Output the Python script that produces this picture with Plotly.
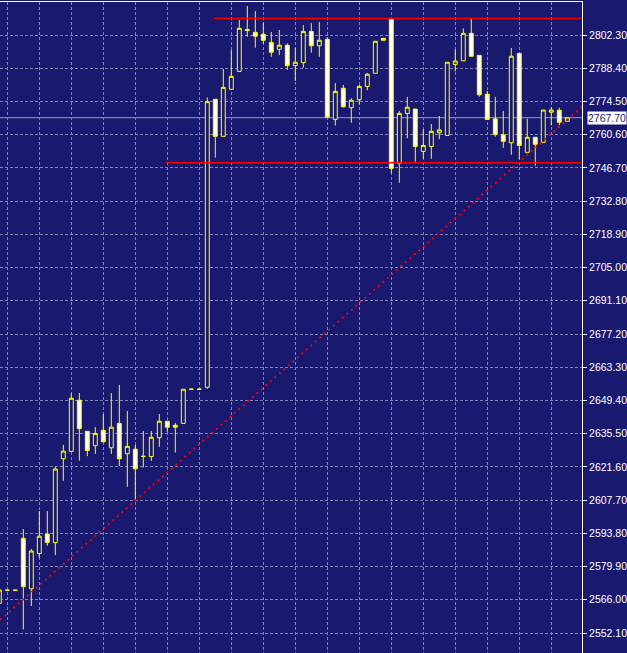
import plotly.graph_objects as go

# ---- data ----
bar_index = list(range(-1, 71))
open_ = [2564.5, 2570.0, 2570.0, 2591.7, 2570.6, 2585.4, 2593.5, 2589.9, 2625.0, 2628.1,
         2649.5, 2636.5, 2630.5, 2636.9, 2629.6, 2639.8, 2627.1, 2629.0, 2626.0, 2625.9,
         2633.8, 2640.7, 2639.0, 2639.8, 2654.1, 2654.1, 2654.9, 2775.4, 2759.9, 2779.6,
         2787.1, 2804.6, 2803.4, 2802.6, 2799.2, 2796.3, 2798.0, 2789.5, 2790.7, 2803.8,
         2797.8, 2800.5, 2767.0, 2780.0, 2771.9, 2775.2, 2780.8, 2786.3, 2800.9, 2808.9,
         2748.6, 2769.5, 2771.3, 2753.6, 2755.7, 2761.4, 2760.3, 2790.0, 2791.5, 2803.0,
         2793.8, 2777.5, 2767.2, 2760.5, 2757.2, 2794.6, 2753.2, 2759.5, 2757.4, 2770.0,
         2770.8, 2766.2]
high = [2570.1, 2570.0, 2570.0, 2595.6, 2587.2, 2603.1, 2603.1, 2621.7, 2630.8, 2652.4,
        2652.5, 2636.5, 2638.3, 2643.7, 2652.5, 2655.9, 2645.0, 2630.8, 2636.6, 2636.6,
        2643.7, 2640.7, 2640.0, 2654.1, 2654.1, 2654.1, 2776.2, 2775.4, 2788.1, 2796.0,
        2808.6, 2814.4, 2812.3, 2807.4, 2803.6, 2804.4, 2798.8, 2797.0, 2806.5, 2807.3,
        2807.7, 2801.2, 2782.2, 2781.4, 2775.8, 2781.4, 2786.4, 2799.7, 2800.9, 2808.9,
        2770.5, 2776.4, 2771.3, 2762.8, 2765.1, 2768.4, 2790.9, 2796.3, 2805.1, 2809.0,
        2793.8, 2778.9, 2776.4, 2770.5, 2796.9, 2794.6, 2767.3, 2759.5, 2770.9, 2772.1,
        2771.9, 2767.9]
low = [2564.5, 2570.0, 2570.0, 2553.6, 2563.4, 2583.6, 2588.6, 2584.7, 2615.8, 2628.1,
       2624.2, 2626.1, 2627.0, 2632.1, 2627.0, 2622.0, 2613.3, 2607.7, 2621.4, 2624.1,
       2630.0, 2636.2, 2627.6, 2639.8, 2654.1, 2654.1, 2654.3, 2751.0, 2759.9, 2779.6,
       2787.1, 2801.6, 2797.0, 2798.7, 2793.2, 2793.9, 2787.7, 2783.1, 2788.6, 2794.9,
       2793.2, 2767.9, 2764.4, 2771.9, 2765.6, 2773.3, 2779.2, 2786.3, 2800.1, 2744.4,
       2740.5, 2759.1, 2749.3, 2750.5, 2750.5, 2758.7, 2760.3, 2787.1, 2791.5, 2793.4,
       2776.5, 2767.0, 2759.8, 2755.1, 2752.2, 2750.3, 2753.2, 2747.6, 2757.4, 2764.5,
       2764.5, 2766.2]
close = [2570.1, 2570.0, 2570.0, 2571.5, 2586.4, 2592.6, 2590.0, 2620.7, 2628.2, 2650.3,
         2637.6, 2628.5, 2635.6, 2632.1, 2638.2, 2625.0, 2630.2, 2620.8, 2626.0, 2634.0,
         2640.7, 2638.2, 2638.2, 2654.1, 2654.1, 2654.1, 2774.4, 2759.9, 2780.4, 2785.0,
         2805.1, 2804.2, 2801.8, 2800.1, 2795.1, 2798.0, 2789.5, 2790.9, 2803.8, 2797.8,
         2800.1, 2767.9, 2778.7, 2772.3, 2775.0, 2780.8, 2785.9, 2799.7, 2800.1, 2746.5,
         2769.5, 2772.1, 2755.7, 2756.1, 2762.0, 2762.6, 2790.9, 2791.4, 2803.0, 2793.4,
         2777.3, 2767.0, 2760.7, 2757.8, 2793.4, 2756.1, 2759.5, 2756.6, 2770.9, 2770.9,
         2765.8, 2767.7]

tick_values = [2552.10, 2566.00, 2579.90, 2593.80, 2607.70, 2621.60, 2635.50, 2649.40,
               2663.30, 2677.20, 2691.10, 2705.00, 2718.90, 2732.80, 2746.70, 2760.60,
               2774.50, 2788.40, 2802.30]
tick_labels = ["%.2f" % v for v in tick_values]

current_price = 2767.70
resistance_level = 2809.3
resistance_start = 25.85
support_level = 2748.9
support_start = 19.85
trend_k = [-0.7, 71.6]
trend_price = [2558.2, 2771.6]

x_range = [-0.9125, 71.84]
y_range = [2543.73, 2816.11]

# ---- styling ----
BG = "#191970"
GRID = "#7b84b4"
FONT = "Liberation Sans, Arial, sans-serif"

fig = go.Figure()

fig.add_trace(go.Candlestick(
    x=bar_index, open=open_, high=high, low=low, close=close,
    increasing=dict(line=dict(color="#FFFF00", width=1), fillcolor=BG),
    decreasing=dict(line=dict(color="#FFFF00", width=1), fillcolor="#FFFFFF"),
    whiskerwidth=0, showlegend=False, hoverinfo="skip",
))

# trend line (dotted red ray) extended over the whole plot width
slope = (trend_price[1] - trend_price[0]) / (trend_k[1] - trend_k[0])
tx = [x_range[0], x_range[1]]
ty = [trend_price[0] + slope * (v - trend_k[0]) for v in tx]
fig.add_trace(go.Scatter(
    x=tx, y=ty, mode="lines",
    line=dict(color="#FF0000", width=1.8, dash="2px,4px"),
    showlegend=False, hoverinfo="skip",
))

shapes = [
    dict(type="line", xref="paper", x0=0, x1=1, yref="y", y0=current_price, y1=current_price,
         line=dict(color="#9a9aa8", width=1), layer="below"),
    dict(type="line", xref="x", x0=resistance_start, x1=x_range[1], yref="y",
         y0=resistance_level, y1=resistance_level, line=dict(color="#FF0000", width=1.2)),
    dict(type="line", xref="x", x0=support_start, x1=x_range[1], yref="y",
         y0=support_level, y1=support_level, line=dict(color="#FF0000", width=1.2)),
]

fig.update_layout(
    width=627, height=653,
    margin=dict(l=0, r=45, t=2, b=0, pad=0),
    paper_bgcolor=BG, plot_bgcolor=BG,
    font=dict(family=FONT, size=10, color="#FFFFFF"),
    showlegend=False,
    shapes=shapes,
    xaxis=dict(
        range=x_range, rangeslider=dict(visible=False),
        side="top", showline=True, linecolor="#FFFFFF", linewidth=1,
        showticklabels=False, ticks="",
        tick0=0, dtick=4, showgrid=True, gridcolor=GRID, gridwidth=1, griddash="3px,2px",
        zeroline=False, fixedrange=True, automargin=False,
    ),
    yaxis=dict(
        range=y_range, side="right",
        showline=True, linecolor="#FFFFFF", linewidth=1,
        tickmode="array", tickvals=tick_values, ticktext=tick_labels,
        ticks="outside", ticklen=4, tickwidth=1, tickcolor="#FFFFFF",
        tickfont=dict(family=FONT, size=10.5, color="#FFFFFF"),
        showgrid=True, gridcolor=GRID, gridwidth=1, griddash="3px,2px",
        zeroline=False, fixedrange=True, automargin=False,
    ),
    annotations=[dict(
        xref="paper", x=1, xanchor="left", xshift=5,
        yref="y", y=current_price, yanchor="middle",
        text="%.2f" % current_price, showarrow=False,
        bgcolor="#FFFFFF", borderpad=0,
        font=dict(family=FONT, size=10.5, color=BG),
    )],
)

fig.write_html(
    "out.html",
    config={"displayModeBar": False},
    post_script="document.body.style.margin='0';document.body.style.background='#191970';",
)
